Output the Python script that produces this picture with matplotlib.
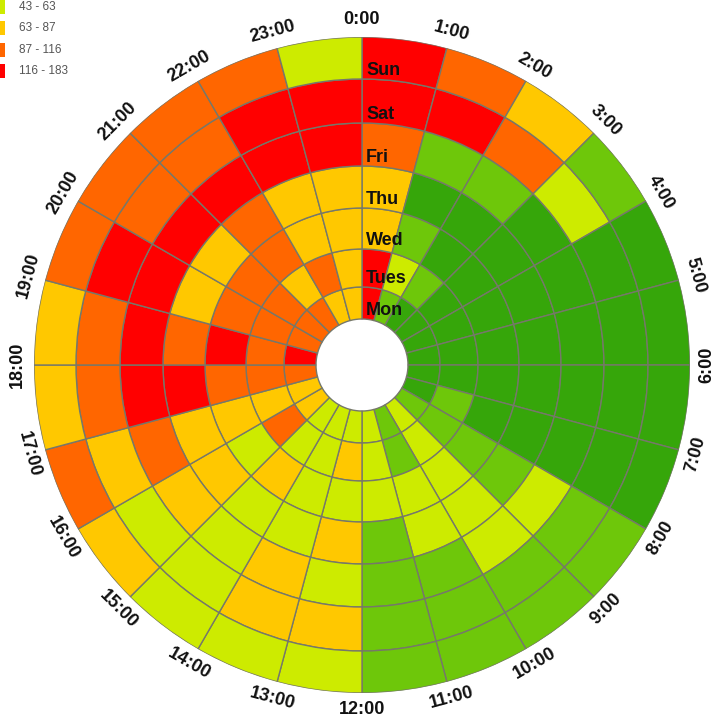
import numpy as np
import matplotlib
matplotlib.use("Agg")
import matplotlib.pyplot as plt
import matplotlib.transforms as mtransforms
from matplotlib.patches import Rectangle

# Data ##############################################################
# level of each cell: 0 dark green, 1 green, 2 = 43-63, 3 = 63-87, 4 = 87-116, 5 = 116-183
hours = [f"{h}:00" for h in range(24)]
days = ["Mon", "Tues", "Wed", "Thu", "Fri", "Sat", "Sun"]   # inner -> outer

mon  = [5, 1, 0, 0, 0, 0, 0, 0, 1, 2, 1, 2, 2, 2, 2, 3, 3, 4, 5, 4, 4, 4, 3, 3]
tues = [5, 2, 1, 0, 0, 0, 0, 1, 1, 2, 1, 2, 3, 2, 2, 4, 3, 4, 4, 4, 4, 3, 4, 3]
wed  = [3, 1, 0, 0, 0, 0, 0, 0, 1, 2, 2, 2, 2, 2, 3, 2, 3, 4, 5, 4, 4, 4, 3, 3]
thu  = [3, 0, 0, 0, 0, 0, 0, 0, 1, 2, 2, 1, 3, 2, 2, 3, 3, 5, 4, 3, 3, 4, 3, 3]
fri  = [4, 1, 1, 0, 0, 0, 0, 0, 2, 2, 1, 1, 2, 3, 2, 3, 4, 5, 5, 5, 5, 5, 5, 5]
sat  = [5, 5, 4, 2, 0, 0, 0, 0, 1, 1, 1, 1, 3, 3, 2, 2, 3, 4, 4, 5, 4, 4, 5, 5]
sun  = [5, 4, 3, 1, 0, 0, 0, 0, 1, 1, 1, 1, 2, 2, 2, 3, 4, 3, 3, 4, 4, 4, 4, 2]
levels = [mon, tues, wed, thu, fri, sat, sun]

legend_labels = ["43 - 63", "63 - 87", "87 - 116", "116 - 183"]   # levels 2..5
colors = ["#36A60A", "#6EC70A", "#CDEB00", "#FFC800", "#FF6600", "#FF0000"]

# Layout (pixels) ####################################################
W, H = 722, 720
cx, cy = 362, 365                                   # centre, from top-left
ring_edges = [46, 78, 116, 157, 199, 242, 286, 328]
R = ring_edges[-1]

fig = plt.figure(figsize=(W / 100, H / 100), dpi=100)
ax = fig.add_axes([(cx - R) / W, (H - cy - R) / H, 2 * R / W, 2 * R / H],
                  projection="polar")
ax.set_theta_zero_location("N")
ax.set_theta_direction(-1)
ax.set_ylim(0, R)
ax.axis("off")

theta = np.deg2rad(np.arange(24) * 15 + 7.5)
width = np.deg2rad(15)

for d, row in enumerate(levels):
    ax.bar(theta, ring_edges[d + 1] - ring_edges[d], width=width,
           bottom=ring_edges[d], color=[colors[v] for v in row],
           edgecolor="#76786a", linewidth=1.0, align="center")

# hour labels round the outside, kept readable
for h, lab in enumerate(hours):
    ang = h * 15
    if h < 6:
        rot = -ang
    elif h < 18:
        rot = 180 - ang
    else:
        rot = 360 - ang
    ax.text(np.deg2rad(ang), 345, lab, rotation=rot, rotation_mode="anchor",
            ha="center", va="center", fontsize=13, fontweight="bold",
            family="Liberation Sans", color="#111111")

# day names along the 0:00 line
shift = mtransforms.offset_copy(ax.transData, fig=fig, x=4, y=0, units="dots")
for d, name in enumerate(days):
    ax.text(0, ring_edges[d] + 4, name, transform=shift, ha="left",
            va="baseline", fontsize=13, fontweight="bold",
            family="Liberation Sans", color="#111111")

# legend, top left (cut by the edge)
for i, lab in enumerate(legend_labels):
    yc = 7 + i * 21.3
    fig.add_artist(Rectangle((-10 / W, 1 - (yc + 7) / H), 15 / W, 14 / H,
                             transform=fig.transFigure,
                             facecolor=colors[i + 2], edgecolor="none"))
    fig.text(19 / W, 1 - yc / H, lab, ha="left", va="center", fontsize=8.5,
             family="Liberation Sans", color="#555555")

fig.savefig("out.png", dpi=100)
